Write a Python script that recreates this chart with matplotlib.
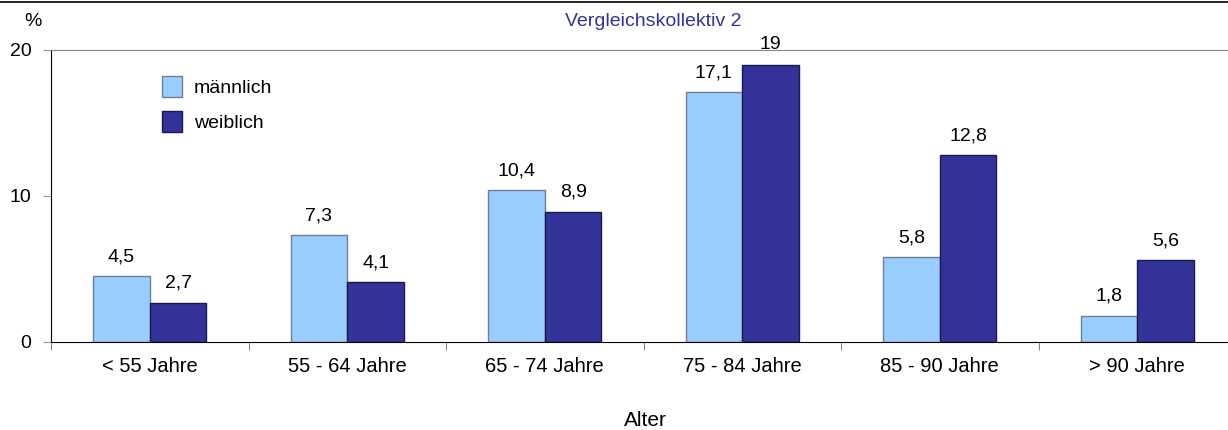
import matplotlib.pyplot as plt
import numpy as np
from matplotlib.lines import Line2D

plt.rcParams['font.family'] = ['Liberation Sans', 'DejaVu Sans']

categories = ["< 55 Jahre", "55 - 64 Jahre", "65 - 74 Jahre", "75 - 84 Jahre", "85 - 90 Jahre", "> 90 Jahre"]
maennlich = [4.5, 7.3, 10.4, 17.1, 5.8, 1.8]
weiblich = [2.7, 4.1, 8.9, 19, 12.8, 5.6]
labels_m = ["4,5", "7,3", "10,4", "17,1", "5,8", "1,8"]
labels_w = ["2,7", "4,1", "8,9", "19", "12,8", "5,6"]

fig = plt.figure(figsize=(12.28, 4.30), dpi=100)
ax = fig.add_axes([51 / 1228, 1 - 342 / 430, 1185 / 1228, 292 / 430])

x = np.arange(len(categories))
w = 0.287
b1 = ax.bar(x - w / 2, maennlich, w, color="#99CCFF", edgecolor="#6f7f8f", linewidth=1, label="männlich")
b2 = ax.bar(x + w / 2, weiblich, w, color="#333399", edgecolor="#1a1a4d", linewidth=1, label="weiblich")

for r, t in zip(b1, labels_m):
    ax.annotate(t, (r.get_x() + r.get_width() / 2, r.get_height()), xytext=(0, 8),
                textcoords="offset points", ha="center", va="bottom", fontsize=14)
for r, t in zip(b2, labels_w):
    ax.annotate(t, (r.get_x() + r.get_width() / 2, r.get_height()), xytext=(0, 8),
                textcoords="offset points", ha="center", va="bottom", fontsize=14)

ax.set_xlim(-0.5, len(categories) - 0.5)
ax.set_ylim(0, 20)
ax.set_yticks([0, 10, 20])
ax.set_xticks(x)
ax.set_xticklabels(categories, fontsize=14.5)
ax.set_xticks(np.arange(len(categories) + 1) - 0.5, minor=True)
ax.tick_params(axis="x", which="major", length=0, pad=11)
ax.tick_params(axis="x", which="minor", length=6, color="#666666", direction="out")
ax.tick_params(axis="y", length=6, color="#999999", labelsize=14, pad=8)

ax.spines["left"].set_color("black")
ax.spines["bottom"].set_color("black")
ax.spines["top"].set_color("#888888")
ax.spines["right"].set_visible(False)

ax.legend(loc="upper left", bbox_to_anchor=(144 / 1228, 1 - 58 / 430), bbox_transform=fig.transFigure,
          frameon=False, fontsize=14, handlelength=1.05, handleheight=1.3, labelspacing=0.75, handletextpad=0.6)

fig.text(653 / 1228, 1 - 22 / 430, "Vergleichskollektiv 2", ha="center", va="center", fontsize=14, color="#333399")
fig.text(33 / 1228, 1 - 22 / 430, "%", ha="center", va="center", fontsize=14)
fig.text(645 / 1228, 1 - 421 / 430, "Alter", ha="center", va="center", fontsize=15)
fig.add_artist(Line2D([0, 1], [1 - 1.5 / 430, 1 - 1.5 / 430], color="black", linewidth=1.2, transform=fig.transFigure))

fig.savefig("out.png", dpi=100)
